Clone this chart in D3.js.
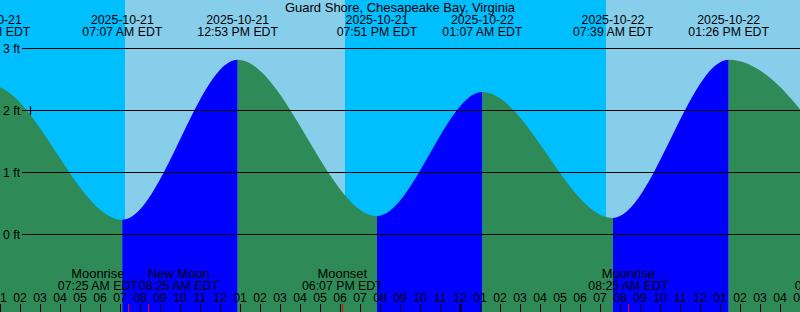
<!DOCTYPE html>
<html>
<head>
<meta charset="utf-8">
<script src="https://cdn.jsdelivr.net/npm/d3@7"></script>
<style>
    body { margin: 0; background: #fff; }
    svg { display: block; font-family: "Liberation Sans", Arial, sans-serif; font-size: 12.3px; }
    .title { font-size: 13px; }
    .mname { font-size: 12.9px; }
</style>
</head>
<body>
<div id="chart-area"></div>
<script>
// Tide graph for one station, 40 hours, local time (EDT)

var title = "Guard Shore, Chesapeake Bay, Virginia";
var startTime = "2025-10-21 01:00";
var endTime = "2025-10-22 17:00";

// high / low tides (the first and last ones lie just outside the window)
var tideTimes = ["2025-10-20 18:10", "2025-10-21 00:31", "2025-10-21 07:07", "2025-10-21 12:53",
    "2025-10-21 19:51", "2025-10-22 01:07", "2025-10-22 07:39", "2025-10-22 13:26", "2025-10-22 20:30"];
var tideHeights = [0.40, 2.40, 0.23, 2.81, 0.29, 2.29, 0.26, 2.81, 0.30];

// sunrise / sunset
var sunTimes = ["2025-10-21 07:15", "2025-10-21 18:15", "2025-10-22 07:18"];
var sunEvents = ["rise", "set", "rise"];

// moon events
var moonTimes = ["2025-10-21 07:25", "2025-10-21 08:25", "2025-10-21 18:07", "2025-10-22 08:25", "2025-10-22 18:45"];
var moonNames = ["Moonrise", "New Moon", "Moonset", "Moonrise", "Moonset"];

var gridFeet = [0, 1, 2, 3];
var markTime = "2025-10-21 02:30";
var markHeight = 2;

var width = 800, height = 312;
var parse = d3.utcParse("%Y-%m-%d %H:%M");
var fmtDate = d3.utcFormat("%Y-%m-%d");
var fmtTime = d3.utcFormat("%I:%M %p EDT");
var fmtHour = d3.utcFormat("%I");

var x = d3.scaleUtc()
    .domain([parse(startTime), parse(endTime)])
    .range([0, width]);
var y = d3.scaleLinear()
    .domain([0, 3])
    .range([234, 48]);

var svg = d3.select("#chart-area").append("svg")
    .attr("width", width)
    .attr("height", height);

// sky: night / day
var bounds = [parse(startTime)].concat(sunTimes.map(parse), [parse(endTime)]);
var skies = [];
for (var i = 0; i < bounds.length - 1; i++) {
    var isDay = i === 0 ? sunEvents[0] === "set" : sunEvents[i - 1] === "rise";
    skies.push({ a: bounds[i], b: bounds[i + 1], day: isDay });
}
svg.selectAll("rect.sky")
    .data(skies)
    .enter().append("rect")
    .attr("class", "sky")
    .attr("x", function (d) { return x(d.a); })
    .attr("width", function (d) { return x(d.b) - x(d.a); })
    .attr("y", 0)
    .attr("height", height)
    .attr("fill", function (d) { return d.day ? "#87ceeb" : "#00bfff"; });

// tide curve
var tides = tideTimes.map(function (t, i) { return { t: parse(t), h: tideHeights[i] }; });
var area = d3.area()
    .x(function (d) { return x(d.t); })
    .y0(height)
    .y1(function (d) { return y(d.h); })
    .curve(d3.curveMonotoneX);

svg.append("clipPath")
    .attr("id", "tide-clip")
    .append("path")
    .attr("d", area(tides));

var segs = [];
for (var j = 0; j < tides.length - 1; j++) {
    segs.push({ a: tides[j].t, b: tides[j + 1].t, rising: tides[j + 1].h > tides[j].h });
}
svg.append("g")
    .attr("clip-path", "url(#tide-clip)")
    .selectAll("rect")
    .data(segs)
    .enter().append("rect")
    .attr("x", function (d) { return x(d.a); })
    .attr("width", function (d) { return x(d.b) - x(d.a); })
    .attr("y", 0)
    .attr("height", height)
    .attr("fill", function (d) { return d.rising ? "#0000ff" : "#2e8b57"; });

// grid lines and feet labels
svg.selectAll("line.grid")
    .data(gridFeet)
    .enter().append("line")
    .attr("class", "grid")
    .attr("x1", 22)
    .attr("x2", width)
    .attr("y1", function (d) { return Math.round(y(d)) + 0.5; })
    .attr("y2", function (d) { return Math.round(y(d)) + 0.5; })
    .attr("stroke", "#000")
    .attr("stroke-width", 1);

svg.selectAll("text.feet")
    .data(gridFeet)
    .enter().append("text")
    .attr("class", "feet")
    .attr("x", 3)
    .attr("y", function (d) { return y(d) + 4.5; })
    .text(function (d) { return d + " ft"; });

// mark
var mx = x(parse(markTime)), my = y(markHeight);
svg.append("path")
    .attr("d", "M" + (mx - 4.5) + "," + (my + 0.5) + "H" + (mx + 4.5) + "M" + (mx + 0.5) + "," + (my - 4) + "V" + (my + 5))
    .attr("stroke", "#000")
    .attr("stroke-width", 1.2);

// title
svg.append("text")
    .attr("class", "title")
    .attr("x", width / 2)
    .attr("y", 12)
    .attr("text-anchor", "middle")
    .text(title);

// tide time labels
var tl = svg.selectAll("g.tlabel")
    .data(tides)
    .enter().append("g")
    .attr("class", "tlabel")
    .attr("text-anchor", "middle")
    .attr("transform", function (d) { return "translate(" + x(d.t) + ",0)"; });
tl.append("text").attr("y", 24).text(function (d) { return fmtDate(d.t); });
tl.append("text").attr("y", 36).text(function (d) { return fmtTime(d.t); });

// hour ticks
var hours = x.ticks(d3.utcHour.every(1));
svg.selectAll("line.hour")
    .data(hours)
    .enter().append("line")
    .attr("class", "hour")
    .attr("x1", function (d) { return Math.round(x(d)) + 0.5; })
    .attr("x2", function (d) { return Math.round(x(d)) + 0.5; })
    .attr("y1", 304)
    .attr("y2", height)
    .attr("stroke", "#000")
    .attr("stroke-width", function (d) { return d.getUTCHours() === 0 ? 2 : 1; });

svg.selectAll("text.hour")
    .data(hours)
    .enter().append("text")
    .attr("class", "hour")
    .attr("x", function (d) { return x(d); })
    .attr("y", 302)
    .attr("text-anchor", "middle")
    .text(function (d) { return fmtHour(d); });

// moon events
var moons = moonTimes.map(function (t, i) { return { t: parse(t), name: moonNames[i] }; });
svg.selectAll("line.moon")
    .data(moons)
    .enter().append("line")
    .attr("class", "moon")
    .attr("x1", function (d) { return Math.round(x(d.t)) + 0.5; })
    .attr("x2", function (d) { return Math.round(x(d.t)) + 0.5; })
    .attr("y1", 304)
    .attr("y2", height)
    .attr("stroke", "#ff0000");

var ml = svg.selectAll("g.mlabel")
    .data(moons)
    .enter().append("g")
    .attr("class", "mlabel")
    .attr("text-anchor", "middle");
ml.append("text").attr("class", "mname").attr("y", 278).text(function (d) { return d.name; });
ml.append("text").attr("class", "mt").attr("y", 290).text(function (d) { return fmtTime(d.t); });

// push overlapping labels apart
ml.each(function (d) {
    d.cx = x(d.t);
    d.w = d3.select(this).select("text.mt").node().getComputedTextLength();
});
for (var k = 0; k < moons.length - 1; k++) {
    var m0 = moons[k], m1 = moons[k + 1];
    var need = (m0.w + m1.w) / 2 + 1;
    var gap = m1.cx - m0.cx;
    if (gap < need) {
        m0.cx -= (need - gap) / 2;
        m1.cx += (need - gap) / 2;
    }
}
ml.attr("transform", function (d) { return "translate(" + d.cx + ",0)"; });
</script>
</body>
</html>
